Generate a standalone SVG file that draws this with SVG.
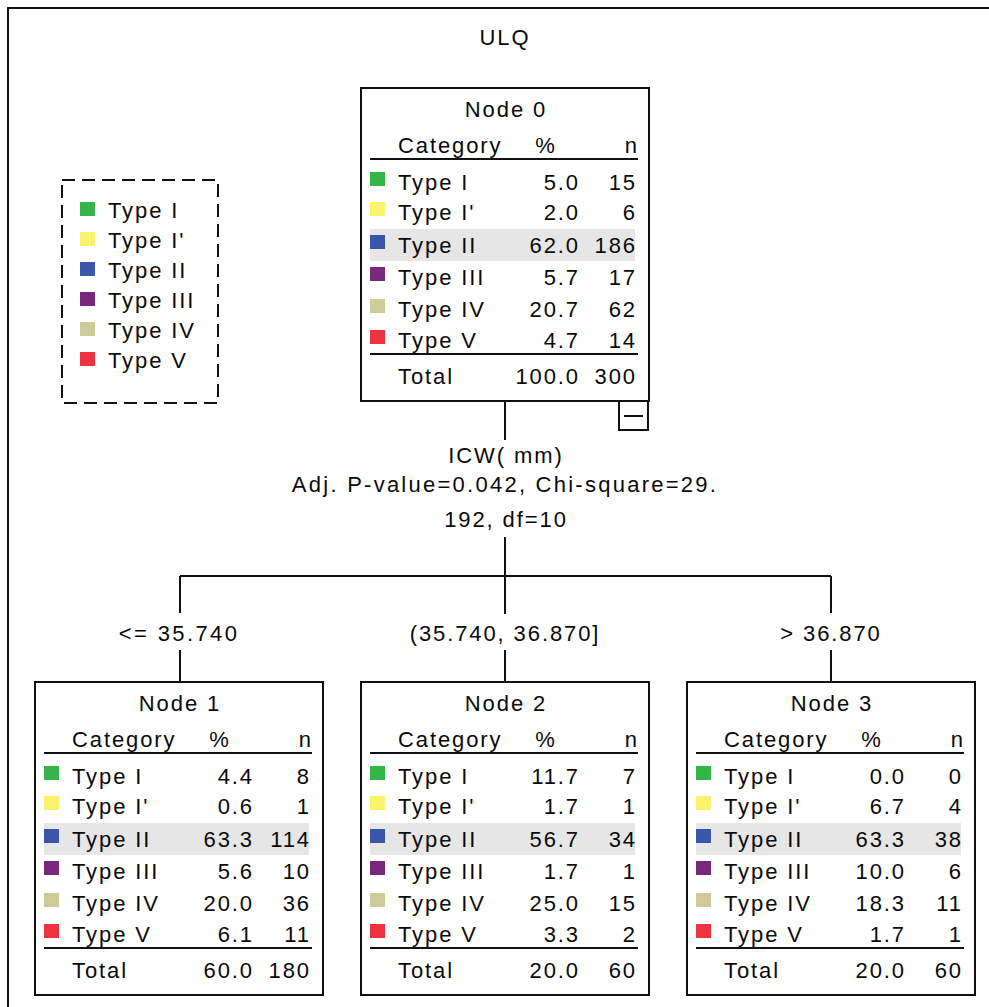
<svg xmlns="http://www.w3.org/2000/svg" width="989" height="1007" viewBox="0 0 989 1007">
  <style>
    text { font-family: "Liberation Sans", Arial, sans-serif; font-size: 22px; fill: #0a0a0a; letter-spacing: 1.9px; }
    .mid { text-anchor: middle; }
    .end { text-anchor: end; }
    .box { fill: #fff; stroke: #111; stroke-width: 2; }
    .rule { stroke: #111; stroke-width: 2; }
    .band { fill: #e6e6e6; }
    .conn { stroke: #111; stroke-width: 2; fill: none; }
    .c1 { fill: #33b54a; }
    .c2 { fill: #f9f36e; }
    .c3 { fill: #3b55a8; }
    .c4 { fill: #7a287e; }
    .c5 { fill: #cfcb98; }
    .c6 { fill: #ee3340; }
  </style>
  <defs>
    <!-- shared skeleton of a tree node: frame, header, rules, highlight band, swatches, row labels -->
    <g id="nodeFrame">
      <rect class="box" x="0" y="0" width="288" height="313"/>
      <text x="37" y="65">Category</text>
      <text class="mid" x="185" y="65">%</text>
      <text class="end" x="278" y="65">n</text>
      <line class="rule" x1="9" y1="71" x2="277" y2="71"/>
      <rect class="band" x="9" y="141" width="265" height="32"/>
      <rect class="c1" x="9" y="84" width="15" height="14"/>
      <rect class="c2" x="9" y="114" width="15" height="14"/>
      <rect class="c3" x="9" y="147" width="15" height="14"/>
      <rect class="c4" x="9" y="179" width="15" height="14"/>
      <rect class="c5" x="9" y="211" width="15" height="14"/>
      <rect class="c6" x="9" y="242" width="15" height="14"/>
      <text x="37" y="102">Type I</text>
      <text x="37" y="132">Type I'</text>
      <text x="37" y="165">Type II</text>
      <text x="37" y="197">Type III</text>
      <text x="37" y="229">Type IV</text>
      <text x="37" y="260">Type V</text>
      <line class="rule" x1="9" y1="266" x2="277" y2="266"/>
      <text x="37" y="296">Total</text>
    </g>
  </defs>

  <!-- outer frame -->
  <path class="conn" d="M8,1007 V8 H989"/>

  <text class="mid" x="505" y="45">ULQ</text>

  <!-- legend -->
  <g id="legend">
    <rect x="62" y="180" width="156" height="223" fill="none" stroke="#111" stroke-width="2" stroke-dasharray="13 7"/>
    <rect class="c1" x="80" y="202" width="15" height="14"/>
    <rect class="c2" x="80" y="232" width="15" height="14"/>
    <rect class="c3" x="80" y="262" width="15" height="14"/>
    <rect class="c4" x="80" y="292" width="15" height="14"/>
    <rect class="c5" x="80" y="322" width="15" height="14"/>
    <rect class="c6" x="80" y="352" width="15" height="14"/>
    <text x="108" y="218">Type I</text>
    <text x="108" y="248">Type I'</text>
    <text x="108" y="278">Type II</text>
    <text x="108" y="308">Type III</text>
    <text x="108" y="338">Type IV</text>
    <text x="108" y="368">Type V</text>
  </g>

  <!-- connectors -->
  <g id="connectors">
    <line class="conn" x1="505" y1="401" x2="505" y2="440"/>
    <line class="conn" x1="505" y1="537" x2="505" y2="614"/>
    <line class="conn" x1="180" y1="576" x2="831" y2="576"/>
    <line class="conn" x1="180" y1="576" x2="180" y2="613"/>
    <line class="conn" x1="831" y1="576" x2="831" y2="613"/>
    <line class="conn" x1="180" y1="650" x2="180" y2="682"/>
    <line class="conn" x1="505" y1="650" x2="505" y2="682"/>
    <line class="conn" x1="831" y1="650" x2="831" y2="682"/>
    <text class="mid" x="506" y="463">ICW( mm)</text>
    <text class="mid" x="505" y="492" style="letter-spacing:2.25px">Adj. P-value=0.042, Chi-square=29.</text>
    <text class="mid" x="506" y="527">192, df=10</text>
    <text class="mid" x="179" y="641" style="letter-spacing:2.4px">&lt;= 35.740</text>
    <text class="mid" x="505" y="641">(35.740, 36.870]</text>
    <text class="mid" x="831" y="641">&gt; 36.870</text>
  </g>

  <!-- Node 0 -->
  <g id="node0" transform="translate(361,88)">
    <use href="#nodeFrame"/>
    <text class="mid" x="145" y="29">Node 0</text>
    <text class="end" x="219" y="102">5.0</text><text class="end" x="276" y="102">15</text>
    <text class="end" x="219" y="132">2.0</text><text class="end" x="276" y="132">6</text>
    <text class="end" x="219" y="165">62.0</text><text class="end" x="276" y="165">186</text>
    <text class="end" x="219" y="197">5.7</text><text class="end" x="276" y="197">17</text>
    <text class="end" x="219" y="229">20.7</text><text class="end" x="276" y="229">62</text>
    <text class="end" x="219" y="260">4.7</text><text class="end" x="276" y="260">14</text>
    <text class="end" x="219" y="296">100.0</text><text class="end" x="276" y="296">300</text>
    <!-- collapse toggle -->
    <rect class="box" x="258" y="313" width="29" height="29"/>
    <line class="rule" x1="263" y1="328" x2="282" y2="328"/>
  </g>

  <!-- Node 1 -->
  <g id="node1" transform="translate(35,682)">
    <use href="#nodeFrame"/>
    <text class="mid" x="145" y="29">Node 1</text>
    <text class="end" x="219" y="102">4.4</text><text class="end" x="276" y="102">8</text>
    <text class="end" x="219" y="132">0.6</text><text class="end" x="276" y="132">1</text>
    <text class="end" x="219" y="165">63.3</text><text class="end" x="276" y="165">114</text>
    <text class="end" x="219" y="197">5.6</text><text class="end" x="276" y="197">10</text>
    <text class="end" x="219" y="229">20.0</text><text class="end" x="276" y="229">36</text>
    <text class="end" x="219" y="260">6.1</text><text class="end" x="276" y="260">11</text>
    <text class="end" x="219" y="296">60.0</text><text class="end" x="276" y="296">180</text>
  </g>

  <!-- Node 2 -->
  <g id="node2" transform="translate(361,682)">
    <use href="#nodeFrame"/>
    <text class="mid" x="145" y="29">Node 2</text>
    <text class="end" x="219" y="102">11.7</text><text class="end" x="276" y="102">7</text>
    <text class="end" x="219" y="132">1.7</text><text class="end" x="276" y="132">1</text>
    <text class="end" x="219" y="165">56.7</text><text class="end" x="276" y="165">34</text>
    <text class="end" x="219" y="197">1.7</text><text class="end" x="276" y="197">1</text>
    <text class="end" x="219" y="229">25.0</text><text class="end" x="276" y="229">15</text>
    <text class="end" x="219" y="260">3.3</text><text class="end" x="276" y="260">2</text>
    <text class="end" x="219" y="296">20.0</text><text class="end" x="276" y="296">60</text>
  </g>

  <!-- Node 3 -->
  <g id="node3" transform="translate(687,682)">
    <use href="#nodeFrame"/>
    <text class="mid" x="145" y="29">Node 3</text>
    <text class="end" x="219" y="102">0.0</text><text class="end" x="276" y="102">0</text>
    <text class="end" x="219" y="132">6.7</text><text class="end" x="276" y="132">4</text>
    <text class="end" x="219" y="165">63.3</text><text class="end" x="276" y="165">38</text>
    <text class="end" x="219" y="197">10.0</text><text class="end" x="276" y="197">6</text>
    <text class="end" x="219" y="229">18.3</text><text class="end" x="276" y="229">11</text>
    <text class="end" x="219" y="260">1.7</text><text class="end" x="276" y="260">1</text>
    <text class="end" x="219" y="296">20.0</text><text class="end" x="276" y="296">60</text>
  </g>
</svg>
